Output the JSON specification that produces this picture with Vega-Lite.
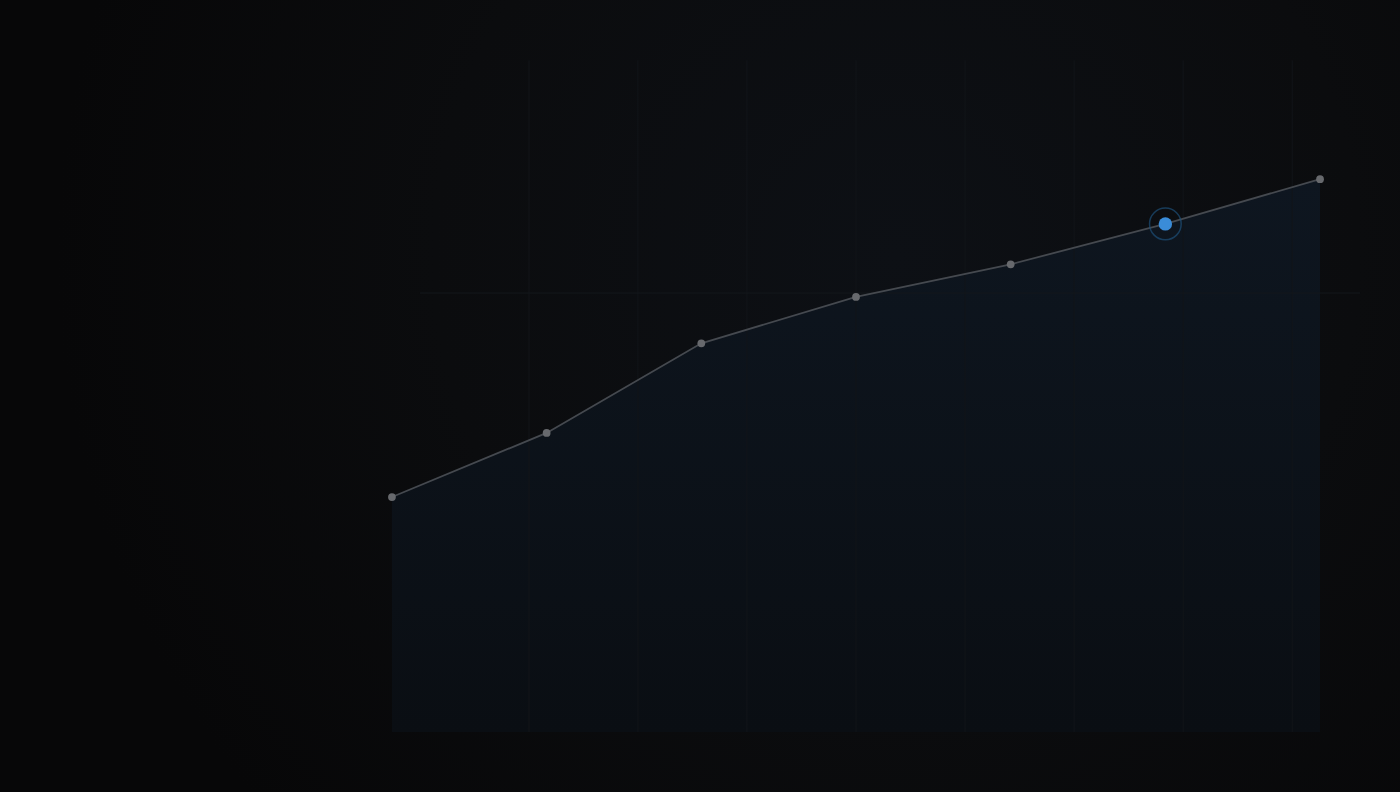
{
  "$schema": "https://vega.github.io/schema/vega-lite/v6.json",
  "width": 1400,
  "height": 792,
  "autosize": {"type": "fit", "contains": "padding"},
  "padding": 0,
  "background": "#070708",
  "config": {"view": {"stroke": null}},
  "datasets": {
    "series": [
      {"i": 0, "v": 42.5, "hl": false},
      {"i": 1, "v": 54.1, "hl": false},
      {"i": 2, "v": 70.3, "hl": false},
      {"i": 3, "v": 78.7, "hl": false},
      {"i": 4, "v": 84.6, "hl": false},
      {"i": 5, "v": 91.9, "hl": true},
      {"i": 6, "v": 100, "hl": false}
    ],
    "vgrid": [
      {"g": 0.886}, {"g": 1.59}, {"g": 2.295}, {"g": 3.0}, {"g": 3.705}, {"g": 4.41}, {"g": 5.115}, {"g": 5.82}
    ],
    "hgrid": [
      {"a": 0.181, "b": 6.259, "y": 79.4}
    ],
    "bg": [
      {"x0": -2.534, "x1": 6.517, "y0": -10.85, "y1": 132.4}
    ]
  },
  "layer": [
    {
      "data": {"name": "bg"},
      "mark": {
        "type": "rect",
        "fill": {
          "gradient": "radial",
          "x1": 0.64, "y1": 0.4, "r1": 0,
          "x2": 0.64, "y2": 0.4, "r2": 0.6,
          "stops": [
            {"offset": 0, "color": "#0d1015"},
            {"offset": 0.55, "color": "#0b0c0e"},
            {"offset": 1, "color": "#070708"}
          ]
        }
      },
      "encoding": {
        "x": {"field": "x0", "type": "quantitative", "scale": {"domain": [-2.534, 6.517], "nice": false, "zero": false}, "axis": null},
        "x2": {"field": "x1"},
        "y": {"field": "y0", "type": "quantitative", "scale": {"domain": [-10.85, 132.4], "nice": false, "zero": false}, "axis": null},
        "y2": {"field": "y1"}
      }
    },
    {
      "data": {"name": "series"},
      "mark": {
        "type": "area",
        "fill": {
          "gradient": "linear",
          "x1": 0, "y1": 0, "x2": 0, "y2": 1,
          "stops": [
            {"offset": 0, "color": "#0e1620"},
            {"offset": 1, "color": "#0a0e13"}
          ]
        },
        "fillOpacity": 1
      },
      "encoding": {
        "x": {"field": "i", "type": "quantitative", "scale": {"domain": [-2.534, 6.517], "nice": false, "zero": false}, "axis": null},
        "y": {"field": "v", "type": "quantitative", "scale": {"domain": [-10.85, 132.4], "nice": false, "zero": false}, "axis": null},
        "y2": {"datum": 0}
      }
    },
    {
      "data": {"name": "vgrid"},
      "mark": {"type": "rule", "stroke": "#121519", "strokeWidth": 1},
      "encoding": {
        "x": {"field": "g", "type": "quantitative", "scale": {"domain": [-2.534, 6.517], "nice": false, "zero": false}, "axis": null},
        "y": {"datum": 121.5, "type": "quantitative", "scale": {"domain": [-10.85, 132.4], "nice": false, "zero": false}, "axis": null},
        "y2": {"datum": 0}
      }
    },
    {
      "data": {"name": "hgrid"},
      "mark": {"type": "rule", "stroke": "#14181c", "strokeWidth": 1},
      "encoding": {
        "x": {"field": "a", "type": "quantitative", "scale": {"domain": [-2.534, 6.517], "nice": false, "zero": false}, "axis": null},
        "x2": {"field": "b"},
        "y": {"field": "y", "type": "quantitative", "scale": {"domain": [-10.85, 132.4], "nice": false, "zero": false}, "axis": null}
      }
    },
    {
      "data": {"name": "series"},
      "mark": {"type": "line", "stroke": "#45494f", "strokeWidth": 1.8},
      "encoding": {
        "x": {"field": "i", "type": "quantitative", "scale": {"domain": [-2.534, 6.517], "nice": false, "zero": false}, "axis": null},
        "y": {"field": "v", "type": "quantitative", "scale": {"domain": [-10.85, 132.4], "nice": false, "zero": false}, "axis": null}
      }
    },
    {
      "data": {"name": "series"},
      "transform": [{"filter": "!datum.hl"}],
      "mark": {"type": "circle", "fill": "#67696d", "opacity": 1, "size": 60},
      "encoding": {
        "x": {"field": "i", "type": "quantitative", "scale": {"domain": [-2.534, 6.517], "nice": false, "zero": false}, "axis": null},
        "y": {"field": "v", "type": "quantitative", "scale": {"domain": [-10.85, 132.4], "nice": false, "zero": false}, "axis": null}
      }
    },
    {
      "data": {"name": "series"},
      "transform": [{"filter": "datum.hl"}],
      "mark": {"type": "point", "shape": "circle", "filled": false, "stroke": "#1d4f78", "strokeWidth": 1.5, "size": 1000},
      "encoding": {
        "x": {"field": "i", "type": "quantitative", "scale": {"domain": [-2.534, 6.517], "nice": false, "zero": false}, "axis": null},
        "y": {"field": "v", "type": "quantitative", "scale": {"domain": [-10.85, 132.4], "nice": false, "zero": false}, "axis": null}
      }
    },
    {
      "data": {"name": "series"},
      "transform": [{"filter": "datum.hl"}],
      "mark": {"type": "circle", "fill": "#3a8cd8", "opacity": 1, "size": 180},
      "encoding": {
        "x": {"field": "i", "type": "quantitative", "scale": {"domain": [-2.534, 6.517], "nice": false, "zero": false}, "axis": null},
        "y": {"field": "v", "type": "quantitative", "scale": {"domain": [-10.85, 132.4], "nice": false, "zero": false}, "axis": null}
      }
    }
  ]
}
